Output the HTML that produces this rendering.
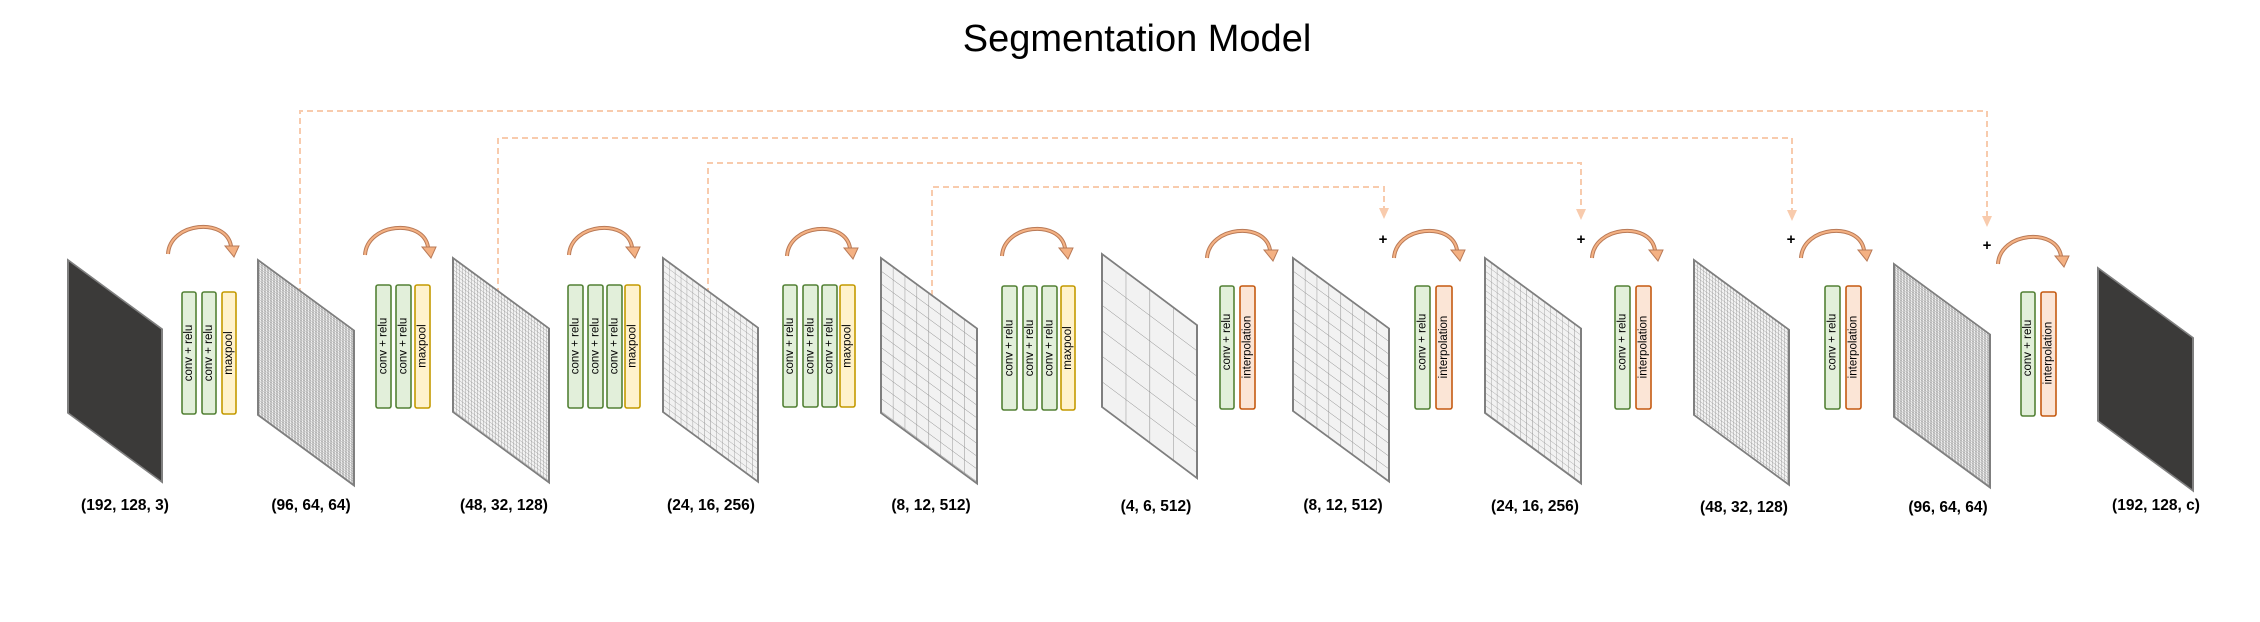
<!DOCTYPE html>
<html><head><meta charset="utf-8"><style>
html,body{margin:0;padding:0;background:#fff;width:2260px;height:622px;overflow:hidden}
svg{display:block}
.t{font-family:"Liberation Sans",sans-serif;font-size:11.5px;fill:#000}
.lbl{font-family:"Liberation Sans",sans-serif;font-size:15.5px;font-weight:bold;fill:#000}
.g{fill:#e2efda;stroke:#538135;stroke-width:1.6}
.y{fill:#fff2cc;stroke:#c49a00;stroke-width:1.6}
.o{fill:#fbe5d6;stroke:#c55a11;stroke-width:1.6}
.dash{fill:none;stroke:#f8cbad;stroke-width:2;stroke-dasharray:6 4}
</style></head><body>
<svg width="2260" height="622" viewBox="0 0 2260 622" xmlns="http://www.w3.org/2000/svg">
<defs>
<pattern id="p64" width="1.5" height="2.4" patternUnits="userSpaceOnUse"><path d="M0 0H1.5M0 0V2.4" stroke="#8a8a8a" stroke-width="0.7" fill="none"/></pattern>
<pattern id="p32" width="3" height="3.8" patternUnits="userSpaceOnUse"><path d="M0 0H3M0 0V3.8" stroke="#8a8a8a" stroke-width="0.7" fill="none"/></pattern>
<pattern id="p16" width="5.94" height="6.4" patternUnits="userSpaceOnUse"><path d="M0 0H5.94M0 0V6.4" stroke="#8a8a8a" stroke-width="0.8" fill="none"/></pattern>
<pattern id="p8" width="11.875" height="12.75" patternUnits="userSpaceOnUse"><path d="M0 0H11.875M0 0V12.75" stroke="#8a8a8a" stroke-width="0.9" fill="none"/></pattern>
<pattern id="p4" width="23.75" height="25.5" patternUnits="userSpaceOnUse"><path d="M0 0H23.75M0 0V25.5" stroke="#8a8a8a" stroke-width="1" fill="none"/></pattern>
<g id="arc">
<path d="M0 0 C 2 -32, 58 -37, 63 -8" fill="none" stroke="#b97a57" stroke-width="4"/>
<path d="M0 0 C 2 -32, 58 -37, 63 -8" fill="none" stroke="#f4b183" stroke-width="2"/>
<polygon points="57,-8 71,-8 66,3" fill="#f4b183" stroke="#b97a57" stroke-width="1"/>
</g>
</defs>

<text x="1137" y="51" text-anchor="middle" font-family="Liberation Sans, sans-serif" font-size="38" fill="#000">Segmentation Model</text>

<!-- dashed skip connections -->
<path class="dash" d="M300 294V111H1987V220"/>
<path class="dash" d="M498 294V138H1792V214"/>
<path class="dash" d="M708 294V163H1581V213"/>
<path class="dash" d="M932 296V187H1384V212"/>
<g fill="#f8cbad">
<polygon points="1982,216 1992,216 1987,227"/>
<polygon points="1787,210 1797,210 1792,221"/>
<polygon points="1576,209 1586,209 1581,220"/>
<polygon points="1379,208 1389,208 1384,219"/>
</g>
<g font-family="Liberation Sans, sans-serif" font-size="15" font-weight="bold" text-anchor="middle">
<text x="1383" y="244">+</text><text x="1581" y="244">+</text><text x="1791" y="244">+</text><text x="1987" y="250">+</text>
</g>

<!-- panels -->
<g stroke="#7f7f7f" stroke-width="2">
<g transform="translate(68,260) skewY(36.3)"><rect width="94" height="153" fill="#3b3a39"/></g>
<g transform="translate(258,260) skewY(36.3)"><rect width="96" height="155" fill="#f2f2f2"/><rect width="96" height="155" fill="url(#p64)" stroke="none"/><rect width="96" height="155" fill="none"/></g>
<g transform="translate(453,258) skewY(36.3)"><rect width="96" height="154" fill="#f2f2f2"/><rect width="96" height="154" fill="url(#p32)" stroke="none"/><rect width="96" height="154" fill="none"/></g>
<g transform="translate(663,258) skewY(36.3)"><rect width="95" height="154" fill="#f2f2f2"/><rect width="95" height="154" fill="url(#p16)" stroke="none"/><rect width="95" height="154" fill="none"/></g>
<g transform="translate(881,258) skewY(36.3)"><rect width="96" height="155" fill="#f2f2f2"/><rect width="96" height="155" fill="url(#p8)" stroke="none"/><rect width="96" height="155" fill="none"/></g>
<g transform="translate(1102,254) skewY(36.8)"><rect width="95" height="153" fill="#f2f2f2"/><rect width="95" height="153" fill="url(#p4)" stroke="none"/><rect width="95" height="153" fill="none"/></g>
<g transform="translate(1293,258) skewY(36.3)"><rect width="96" height="153" fill="#f2f2f2"/><rect width="96" height="153" fill="url(#p8)" stroke="none"/><rect width="96" height="153" fill="none"/></g>
<g transform="translate(1485,258) skewY(36.3)"><rect width="96" height="155" fill="#f2f2f2"/><rect width="96" height="155" fill="url(#p16)" stroke="none"/><rect width="96" height="155" fill="none"/></g>
<g transform="translate(1694,260) skewY(36.3)"><rect width="95" height="155" fill="#f2f2f2"/><rect width="95" height="155" fill="url(#p32)" stroke="none"/><rect width="95" height="155" fill="none"/></g>
<g transform="translate(1894,264) skewY(36.3)"><rect width="96" height="153" fill="#f2f2f2"/><rect width="96" height="153" fill="url(#p64)" stroke="none"/><rect width="96" height="153" fill="none"/></g>
<g transform="translate(2098,268) skewY(36.3)"><rect width="95" height="153" fill="#3b3a39"/></g>
</g>

<!-- arcs -->
<use href="#arc" transform="translate(168,254)"/>
<use href="#arc" transform="translate(365,255)"/>
<use href="#arc" transform="translate(569,255)"/>
<use href="#arc" transform="translate(787,256)"/>
<use href="#arc" transform="translate(1002,256)"/>
<use href="#arc" transform="translate(1207,258)"/>
<use href="#arc" transform="translate(1394,258)"/>
<use href="#arc" transform="translate(1592,258)"/>
<use href="#arc" transform="translate(1801,258)"/>
<use href="#arc" transform="translate(1998,264)"/>

<!-- blocks -->
<g>
<rect class="g" x="182" y="292" width="14" height="122" rx="2"/><text class="t" transform="translate(189,353) rotate(-90)" text-anchor="middle" dominant-baseline="central">conv + relu</text>
<rect class="g" x="202" y="292" width="14" height="122" rx="2"/><text class="t" transform="translate(209,353) rotate(-90)" text-anchor="middle" dominant-baseline="central">conv + relu</text>
<rect class="y" x="222" y="292" width="14" height="122" rx="2"/><text class="t" transform="translate(229,353) rotate(-90)" text-anchor="middle" dominant-baseline="central">maxpool</text>

<rect class="g" x="376" y="285" width="15" height="123" rx="2"/><text class="t" transform="translate(383.5,346) rotate(-90)" text-anchor="middle" dominant-baseline="central">conv + relu</text>
<rect class="g" x="396" y="285" width="15" height="123" rx="2"/><text class="t" transform="translate(403.5,346) rotate(-90)" text-anchor="middle" dominant-baseline="central">conv + relu</text>
<rect class="y" x="415" y="285" width="15" height="123" rx="2"/><text class="t" transform="translate(422.5,346) rotate(-90)" text-anchor="middle" dominant-baseline="central">maxpool</text>

<rect class="g" x="568" y="285" width="15" height="123" rx="2"/><text class="t" transform="translate(575.5,346) rotate(-90)" text-anchor="middle" dominant-baseline="central">conv + relu</text>
<rect class="g" x="588" y="285" width="15" height="123" rx="2"/><text class="t" transform="translate(595.5,346) rotate(-90)" text-anchor="middle" dominant-baseline="central">conv + relu</text>
<rect class="g" x="607" y="285" width="15" height="123" rx="2"/><text class="t" transform="translate(614.5,346) rotate(-90)" text-anchor="middle" dominant-baseline="central">conv + relu</text>
<rect class="y" x="625" y="285" width="15" height="123" rx="2"/><text class="t" transform="translate(632.5,346) rotate(-90)" text-anchor="middle" dominant-baseline="central">maxpool</text>

<rect class="g" x="783" y="285" width="14" height="122" rx="2"/><text class="t" transform="translate(790,346) rotate(-90)" text-anchor="middle" dominant-baseline="central">conv + relu</text>
<rect class="g" x="803" y="285" width="15" height="122" rx="2"/><text class="t" transform="translate(810.5,346) rotate(-90)" text-anchor="middle" dominant-baseline="central">conv + relu</text>
<rect class="g" x="822" y="285" width="15" height="122" rx="2"/><text class="t" transform="translate(829.5,346) rotate(-90)" text-anchor="middle" dominant-baseline="central">conv + relu</text>
<rect class="y" x="840" y="285" width="15" height="122" rx="2"/><text class="t" transform="translate(847.5,346) rotate(-90)" text-anchor="middle" dominant-baseline="central">maxpool</text>

<rect class="g" x="1002" y="286" width="15" height="124" rx="2"/><text class="t" transform="translate(1009.5,348) rotate(-90)" text-anchor="middle" dominant-baseline="central">conv + relu</text>
<rect class="g" x="1023" y="286" width="14" height="124" rx="2"/><text class="t" transform="translate(1030,348) rotate(-90)" text-anchor="middle" dominant-baseline="central">conv + relu</text>
<rect class="g" x="1042" y="286" width="15" height="124" rx="2"/><text class="t" transform="translate(1049.5,348) rotate(-90)" text-anchor="middle" dominant-baseline="central">conv + relu</text>
<rect class="y" x="1061" y="286" width="14" height="124" rx="2"/><text class="t" transform="translate(1068,348) rotate(-90)" text-anchor="middle" dominant-baseline="central">maxpool</text>

<rect class="g" x="1220" y="286" width="14" height="123" rx="2"/><text class="t" transform="translate(1227,342) rotate(-90)" text-anchor="middle" dominant-baseline="central">conv + relu</text>
<rect class="o" x="1240" y="286" width="15" height="123" rx="2"/><text class="t" transform="translate(1247.5,347) rotate(-90)" text-anchor="middle" dominant-baseline="central">interpolation</text>

<rect class="g" x="1415" y="286" width="15" height="123" rx="2"/><text class="t" transform="translate(1422.5,342) rotate(-90)" text-anchor="middle" dominant-baseline="central">conv + relu</text>
<rect class="o" x="1436" y="286" width="16" height="123" rx="2"/><text class="t" transform="translate(1444,347) rotate(-90)" text-anchor="middle" dominant-baseline="central">interpolation</text>

<rect class="g" x="1615" y="286" width="15" height="123" rx="2"/><text class="t" transform="translate(1622.5,342) rotate(-90)" text-anchor="middle" dominant-baseline="central">conv + relu</text>
<rect class="o" x="1636" y="286" width="15" height="123" rx="2"/><text class="t" transform="translate(1643.5,347) rotate(-90)" text-anchor="middle" dominant-baseline="central">interpolation</text>

<rect class="g" x="1825" y="286" width="15" height="123" rx="2"/><text class="t" transform="translate(1832.5,342) rotate(-90)" text-anchor="middle" dominant-baseline="central">conv + relu</text>
<rect class="o" x="1846" y="286" width="15" height="123" rx="2"/><text class="t" transform="translate(1853.5,347) rotate(-90)" text-anchor="middle" dominant-baseline="central">interpolation</text>

<rect class="g" x="2021" y="292" width="14" height="124" rx="2"/><text class="t" transform="translate(2028,348) rotate(-90)" text-anchor="middle" dominant-baseline="central">conv + relu</text>
<rect class="o" x="2041" y="292" width="15" height="124" rx="2"/><text class="t" transform="translate(2048.5,353) rotate(-90)" text-anchor="middle" dominant-baseline="central">interpolation</text>
</g>

<!-- labels -->
<g class="lbl" text-anchor="middle">
<text class="lbl" x="125" y="510">(192, 128, 3)</text>
<text class="lbl" x="311" y="510">(96, 64, 64)</text>
<text class="lbl" x="504" y="510">(48, 32, 128)</text>
<text class="lbl" x="711" y="510">(24, 16, 256)</text>
<text class="lbl" x="931" y="510">(8, 12, 512)</text>
<text class="lbl" x="1156" y="511">(4, 6, 512)</text>
<text class="lbl" x="1343" y="510">(8, 12, 512)</text>
<text class="lbl" x="1535" y="511">(24, 16, 256)</text>
<text class="lbl" x="1744" y="512">(48, 32, 128)</text>
<text class="lbl" x="1948" y="512">(96, 64, 64)</text>
<text class="lbl" x="2156" y="510">(192, 128, c)</text>
</g>
</svg>
</body></html>
